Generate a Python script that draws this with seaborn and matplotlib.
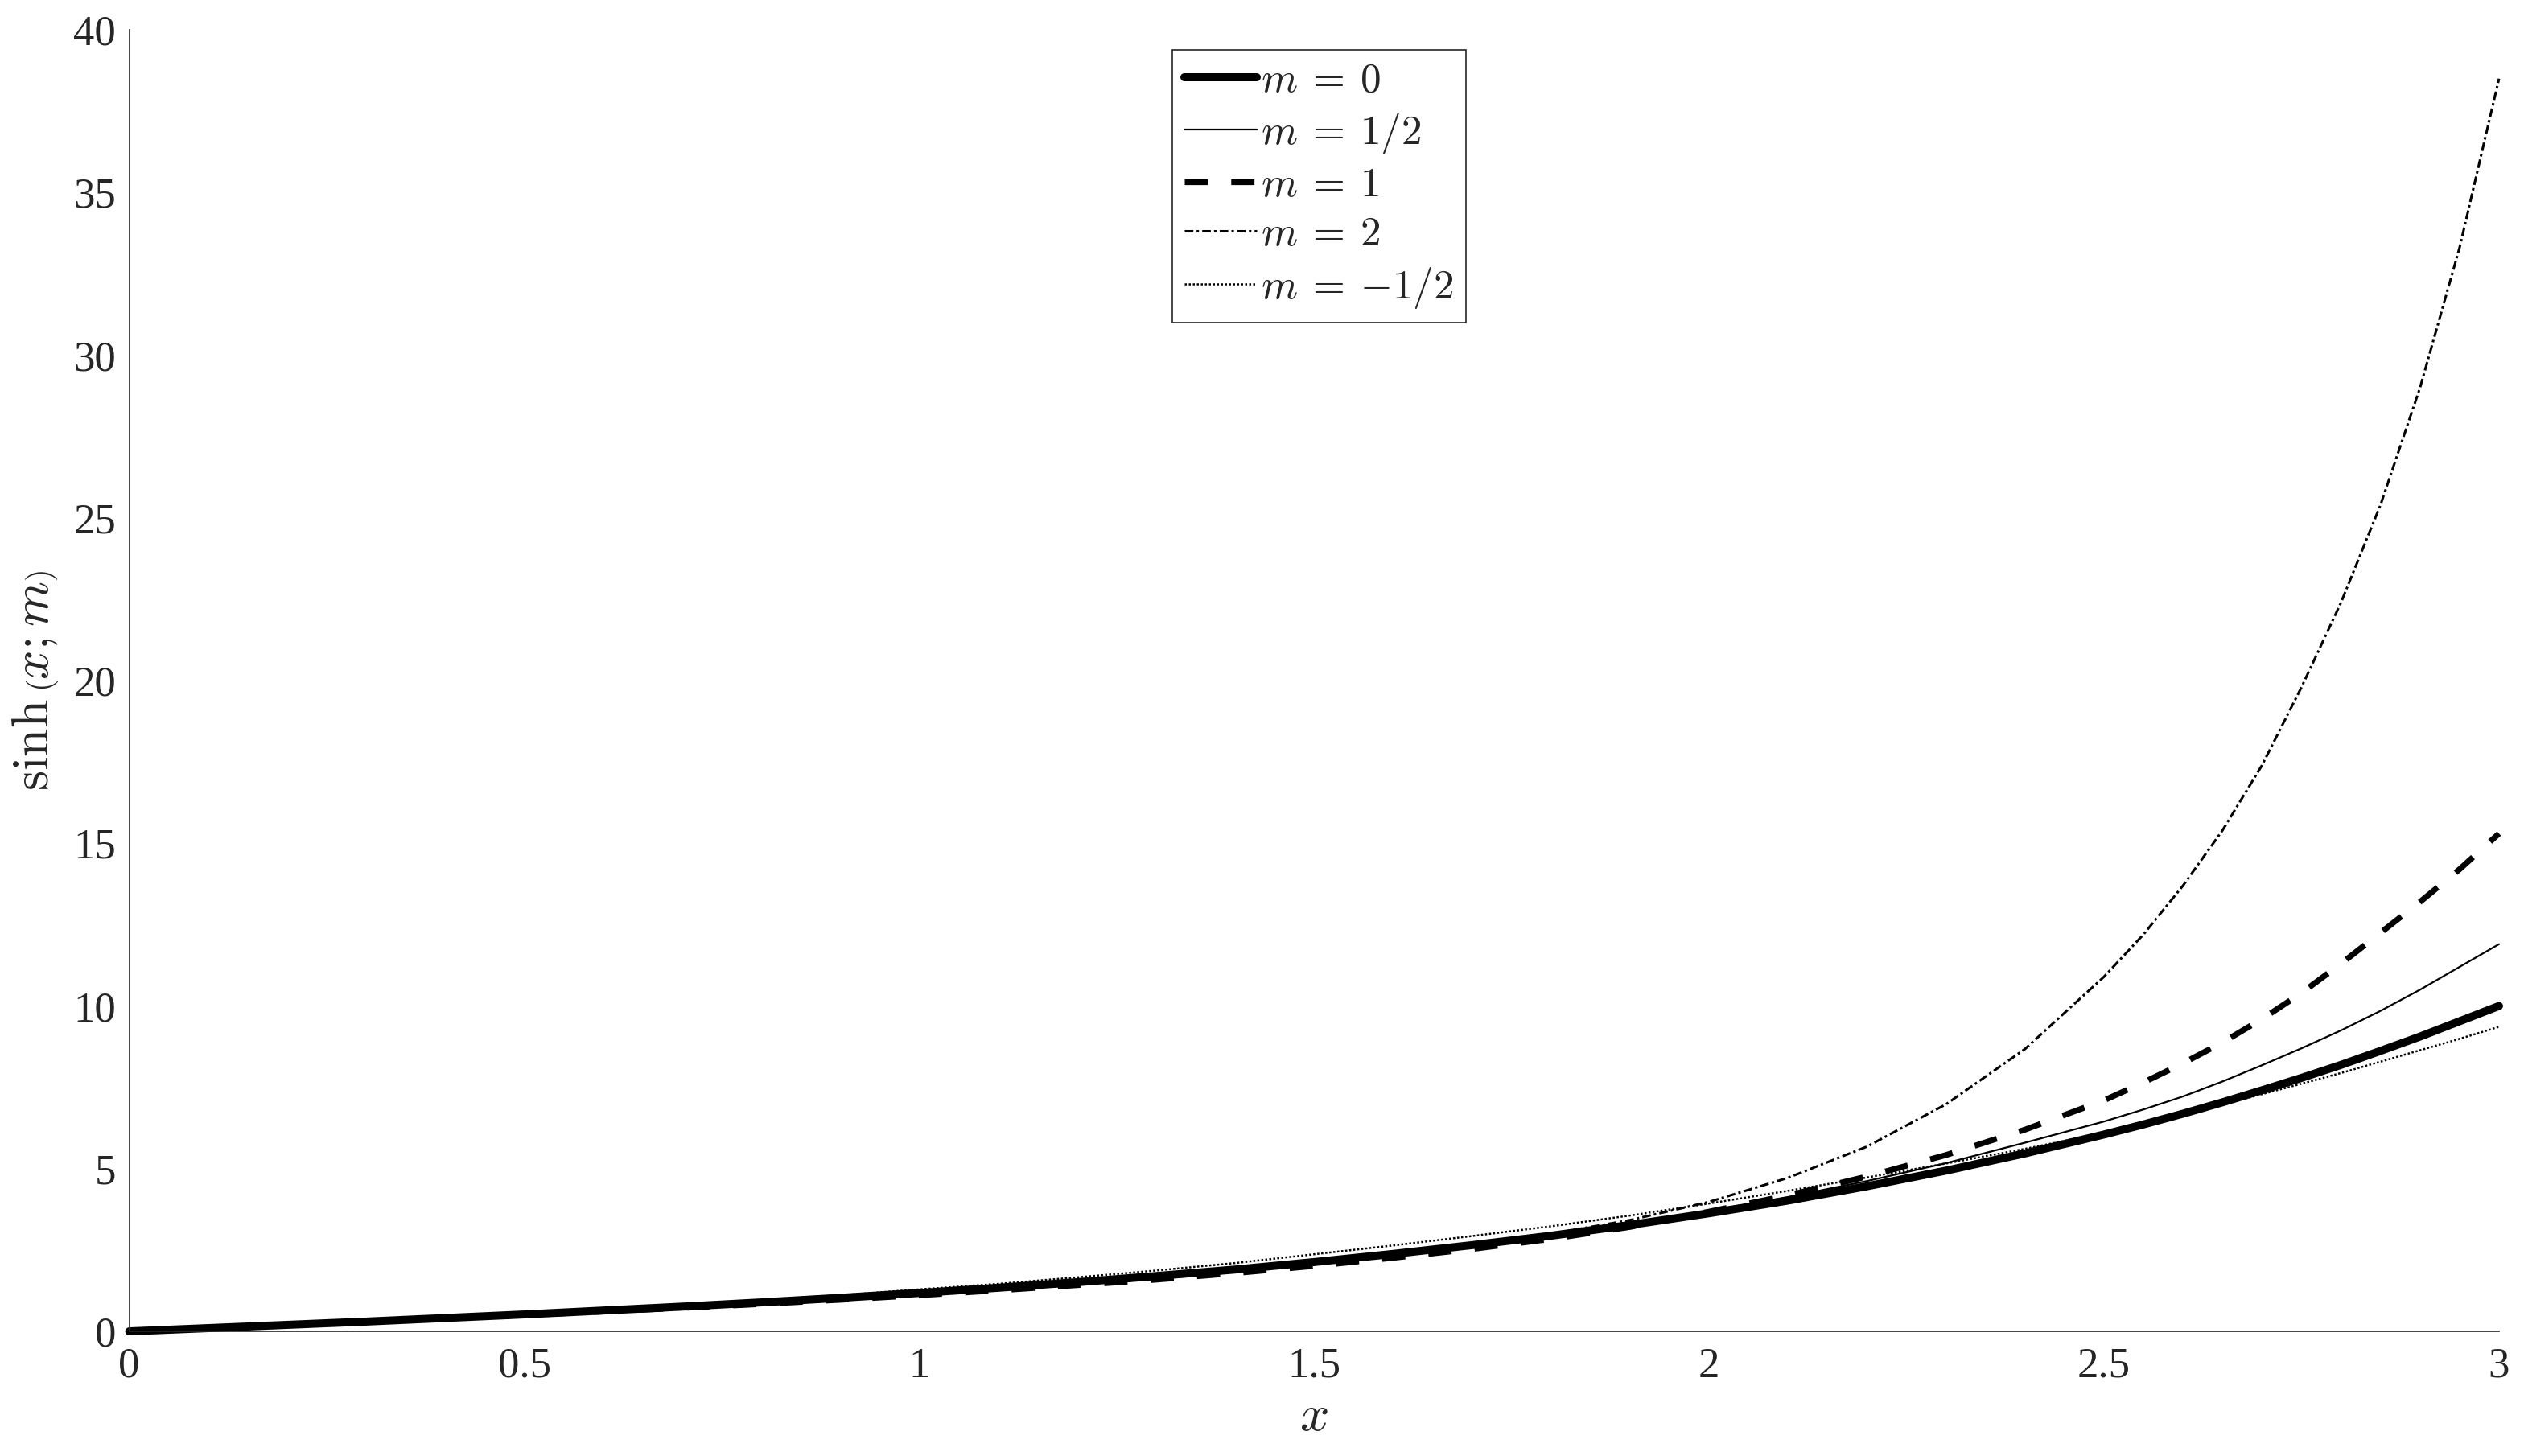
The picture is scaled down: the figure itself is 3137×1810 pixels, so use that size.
#generalized sinh curves for several m

import pandas as pd
import matplotlib
matplotlib.use('Agg')
import matplotlib.pyplot as plt
import seaborn as sns

# values
x_vals = [0.0, 0.1, 0.2, 0.3, 0.4, 0.5, 0.6, 0.7, 0.8, 0.9,
          1.0, 1.1, 1.2, 1.3, 1.4, 1.5, 1.6, 1.7, 1.8, 1.9,
          2.0, 2.1, 2.2, 2.3, 2.4, 2.5, 2.55, 2.6, 2.65, 2.7,
          2.75, 2.8, 2.85, 2.9, 2.95, 3.0]
m_0 = [0, 0.10, 0.20, 0.30, 0.41, 0.52, 0.64, 0.76, 0.89, 1.03,
       1.18, 1.34, 1.51, 1.70, 1.90, 2.13, 2.38, 2.65, 2.94, 3.27,
       3.63, 4.02, 4.46, 4.94, 5.47, 6.05, 6.36, 6.69, 7.04, 7.41,
       7.79, 8.19, 8.62, 9.06, 9.53, 10.0]
m_half = [0, 0.10, 0.20, 0.31, 0.41, 0.52, 0.64, 0.76, 0.89, 1.03,
          1.18, 1.34, 1.51, 1.70, 1.91, 2.14, 2.39, 2.67, 2.97, 3.31,
          3.70, 4.13, 4.62, 5.17, 5.80, 6.45, 6.82, 7.22, 7.68, 8.18,
          8.70, 9.25, 9.85, 10.5, 11.2, 11.9]
m_1 = [0, 0.10, 0.20, 0.30, 0.40, 0.50, 0.61, 0.72, 0.84, 0.97,
       1.11, 1.26, 1.42, 1.59, 1.79, 2.01, 2.26, 2.53, 2.84, 3.21,
       3.68, 4.18, 4.76, 5.42, 6.20, 7.10, 7.65, 8.24, 8.88, 9.60,
       10.4, 11.3, 12.25, 13.2, 14.2, 15.3]
m_2 = [0, 0.10, 0.20, 0.30, 0.40, 0.51, 0.62, 0.74, 0.86, 0.99,
       1.12, 1.27, 1.44, 1.62, 1.83, 2.07, 2.35, 2.68, 3.00, 3.42,
       3.98, 4.72, 5.68, 6.98, 8.68, 10.9, 12.2, 13.7, 15.4, 17.4,
       19.8, 22.4, 25.4, 29.0, 33.3, 38.5]
m_neg_half = [0, 0.10, 0.20, 0.31, 0.42, 0.55, 0.67, 0.80, 0.95, 1.11,
              1.29, 1.46, 1.66, 1.87, 2.10, 2.37, 2.64, 2.93, 3.23, 3.56,
              3.93, 4.32, 4.73, 5.16, 5.61, 6.10, 6.37, 6.66, 6.97, 7.29,
              7.61, 7.94, 8.29, 8.64, 8.99, 9.36]

labels = [r'$m \:=\: 0$', r'$m \:=\: 1/2$', r'$m \:=\: 1$', r'$m \:=\: 2$',
          r'$m \:=\: {-1}/2$']
x_ticks = [0, 0.5, 1, 1.5, 2, 2.5, 3]
x_ticklabels = ['0', '0.5', '1', '1.5', '2', '2.5', '3']
y_ticks = [0, 5, 10, 15, 20, 25, 30, 35, 40]
y_ticklabels = ['0', '5', '10', '15', '20', '25', '30', '35', '40']


def main():
    sns.set_style('white')
    plt.rcParams['font.family'] = ['Liberation Serif', 'DejaVu Serif']
    plt.rcParams['mathtext.fontset'] = 'cm'

    df = pd.DataFrame({'x': x_vals, 'm0': m_0, 'mhalf': m_half, 'm1': m_1,
                       'm2': m_2, 'mneg': m_neg_half})

    fig = plt.figure(figsize=(15.685, 9.05), dpi=200)
    ax = fig.add_axes([0.0512, 0.0856, 0.9389, 0.8939])

    styles = [
        ('m0', 3.6, '-'),
        ('mhalf', 0.8, '-'),
        ('m1', 2.6, (0, (4, 4))),
        ('m2', 1.1, (0, (3.5, 1.3, 1, 1.3))),
        ('mneg', 0.9, (0, (1, 1))),
    ]
    for (col, lw, ls), lab in zip(styles, labels):
        sns.lineplot(data=df, x='x', y=col, ax=ax, color='k', linewidth=lw,
                     linestyle=ls, label=lab, sort=False, estimator=None,
                     clip_on=False)

    ax.set_xlim(0, 3)
    ax.set_ylim(0, 40)
    ax.set_xticks(x_ticks)
    ax.set_xticklabels(x_ticklabels)
    ax.set_yticks(y_ticks)
    ax.set_yticklabels(y_ticklabels)

    for side in ['top', 'right']:
        ax.spines[side].set_visible(False)
    for side in ['left', 'bottom']:
        ax.spines[side].set_color('#262626')
        ax.spines[side].set_linewidth(0.6)
    ax.tick_params(axis='both', direction='in', length=10.8, width=0.6,
                   color='#262626', labelcolor='#262626', labelsize=19)
    ax.tick_params(axis='x', pad=7)
    ax.tick_params(axis='y', pad=6)

    ax.set_xlabel('$x$', fontsize=23, labelpad=4)
    ax.set_ylabel(r'$\sinh\left(x;m\right)$', fontsize=23, labelpad=6)

    leg = ax.legend(loc='upper left', bbox_to_anchor=(0.44, 0.9845),
                    borderaxespad=0, fontsize=18.5, frameon=True, fancybox=False,
                    framealpha=1, edgecolor='#262626', handlelength=1.75,
                    handletextpad=0.1, labelspacing=0.27, borderpad=0.3)
    leg.get_frame().set_linewidth(0.6)

    fig.savefig('out.png', dpi=200)
    plt.close(fig)


if __name__ == '__main__':
    main()
